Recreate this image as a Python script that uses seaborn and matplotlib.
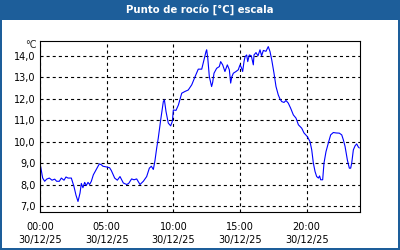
import matplotlib
matplotlib.use("Agg")
import matplotlib.pyplot as plt
import seaborn as sns
import pandas as pd
from matplotlib.patches import Rectangle

# ---- data ----
hours = [0.0, 0.2, 0.35, 0.5, 0.7, 0.9, 1.1, 1.25, 1.45, 1.6, 1.8, 1.95, 2.1, 2.35,
         2.55, 2.7, 2.85, 3.0, 3.1, 3.22, 3.35, 3.47, 3.6, 3.72, 3.85, 4.0, 4.2, 4.45,
         4.6, 4.72, 4.97, 5.22, 5.35, 5.6, 5.8, 6.0, 6.25, 6.5, 6.65, 6.87, 7.05, 7.25,
         7.5, 7.75, 8.0, 8.2, 8.35, 8.5, 8.62, 8.75, 8.87, 9.05, 9.25, 9.33, 9.45, 9.62,
         9.8, 9.93, 10.0, 10.2, 10.38, 10.63, 10.87, 11.12, 11.38, 11.63, 11.87, 12.13,
         12.3, 12.45, 12.5, 12.58, 12.7, 12.87, 12.95, 13.05, 13.25, 13.45, 13.55, 13.7,
         13.87, 14.05, 14.2, 14.3, 14.38, 14.5, 14.7, 14.87, 15.0, 15.1, 15.2, 15.3,
         15.38, 15.5, 15.58, 15.7, 15.85, 16.0, 16.05, 16.2, 16.35, 16.5, 16.62, 16.75,
         16.95, 17.12, 17.25, 17.38, 17.55, 17.7, 17.87, 18.0, 18.13, 18.3, 18.45, 18.62,
         18.8, 19.0, 19.2, 19.38, 19.63, 19.8, 20.05, 20.25, 20.38, 20.5, 20.63, 20.75,
         20.88, 20.97, 21.05, 21.2, 21.3, 21.45, 21.62, 21.8, 22.0, 22.2, 22.45, 22.63,
         22.75, 22.88, 23.05, 23.2, 23.3, 23.38, 23.5, 23.63, 23.75, 23.88, 23.95]
dew_point = [9.0, 8.3, 8.15, 8.25, 8.3, 8.2, 8.25, 8.15, 8.15, 8.3, 8.2, 8.35, 8.3, 8.3,
             7.9, 7.5, 7.21, 7.6, 8.05, 7.85, 8.1, 7.95, 8.1, 8.0, 8.15, 8.45, 8.68, 8.96,
             8.92, 8.85, 8.82, 8.78, 8.65, 8.3, 8.2, 8.37, 8.07, 8.0, 8.05, 8.26, 8.22, 8.26,
             8.0, 8.15, 8.37, 8.76, 8.85, 8.7, 9.1, 9.69, 10.16, 11.0, 11.86, 11.94, 11.4, 10.86,
             10.73, 10.95, 11.47, 11.45, 11.7, 12.25, 12.33, 12.4, 12.64, 13.02, 13.37, 13.37,
             13.8, 14.19, 14.27, 13.9, 13.02, 12.56, 12.75, 13.18, 13.41, 13.49, 13.72, 13.57,
             13.26, 13.57, 13.34, 12.72, 13.0, 13.18, 13.26, 13.34, 13.57, 13.45, 13.26, 13.72,
             13.95, 14.03, 13.72, 14.03, 13.99, 13.57, 14.03, 14.14, 13.99, 14.27, 13.99, 14.24,
             14.2, 14.42, 14.19, 13.8, 13.18, 12.56, 12.17, 11.98, 11.86, 11.82, 11.91, 11.79,
             11.55, 11.24, 11.09, 10.78, 10.62, 10.4, 10.23, 10.0, 9.61, 9.0, 8.6, 8.37,
             8.3, 8.4, 8.22, 8.22, 9.0, 9.53, 9.92, 10.31, 10.42, 10.4, 10.39, 10.31,
             10.08, 9.77, 9.15, 8.76, 8.76, 9.0, 9.61, 9.8, 9.89, 9.74, 9.7]
x_tick_hours = [0, 5, 10, 15, 20]
x_tick_times = ["00:00", "05:00", "10:00", "15:00", "20:00"]
x_tick_date = "30/12/25"
y_ticks = [7, 8, 9, 10, 11, 12, 13, 14]
title = "Punto de rocío [°C] escala"
unit = "°C"

df = pd.DataFrame({"hour": hours, "value": dew_point})

sns.set_style("white")
plt.rcParams["font.family"] = ["DejaVu Sans"]
plt.rcParams["lines.scale_dashes"] = False

fig = plt.figure(figsize=(4, 2.5), dpi=100)
fig.patch.set_facecolor("white")
blue = "#1d5e9a"

# title bar and frame
fig.add_artist(Rectangle((0, 1 - 20 / 250), 1, 20 / 250, transform=fig.transFigure,
                         facecolor=blue, edgecolor="none", zorder=0))
fig.add_artist(Rectangle((0, 0), 2 / 400, 1, transform=fig.transFigure,
                         facecolor=blue, edgecolor="none", zorder=0))
fig.add_artist(Rectangle((1 - 2 / 400, 0), 2 / 400, 1, transform=fig.transFigure,
                         facecolor=blue, edgecolor="none", zorder=0))
fig.add_artist(Rectangle((0, 0), 1, 2 / 250, transform=fig.transFigure,
                         facecolor=blue, edgecolor="none", zorder=0))
fig.text(0.5, 1 - 10 / 250, title, color="white", fontsize=7.3, fontweight="bold",
         ha="center", va="center")

ax = fig.add_axes([40 / 400, 38 / 250, 320 / 400, 171 / 250])
sns.lineplot(data=df, x="hour", y="value", ax=ax, color="#0000ff", linewidth=0.8,
             estimator=None, sort=False)

ax.set_xlim(0, 24)
ax.set_ylim(6.72, 14.68)
ax.set_xlabel("")
ax.set_ylabel("")

ax.set_yticks(y_ticks)
ax.set_yticklabels([f"{v:.1f}".replace(".", ",") for v in y_ticks])
ax.set_xticks(x_tick_hours)
ax.set_xticklabels([f"{t}\n{x_tick_date}" for t in x_tick_times])
ax.set_xticks(range(0, 25), minor=True)

ax.tick_params(axis="y", length=0, pad=3, labelsize=7, colors="black")
ax.tick_params(axis="x", which="both", direction="out", length=3, width=0.8,
               pad=4, labelsize=7, colors="black")
for lab in ax.get_xticklabels():
    lab.set_linespacing(1.45)

ax.grid(True, which="major", color="black", linestyle=(0, (2.2, 2.2)), linewidth=0.8)
for s in ax.spines.values():
    s.set_color("black")
    s.set_linewidth(0.8)

fig.text(37 / 400, 1 - 45 / 250, unit, fontsize=7, ha="right", va="center")

fig.savefig("out.png", dpi=100, facecolor="white")
